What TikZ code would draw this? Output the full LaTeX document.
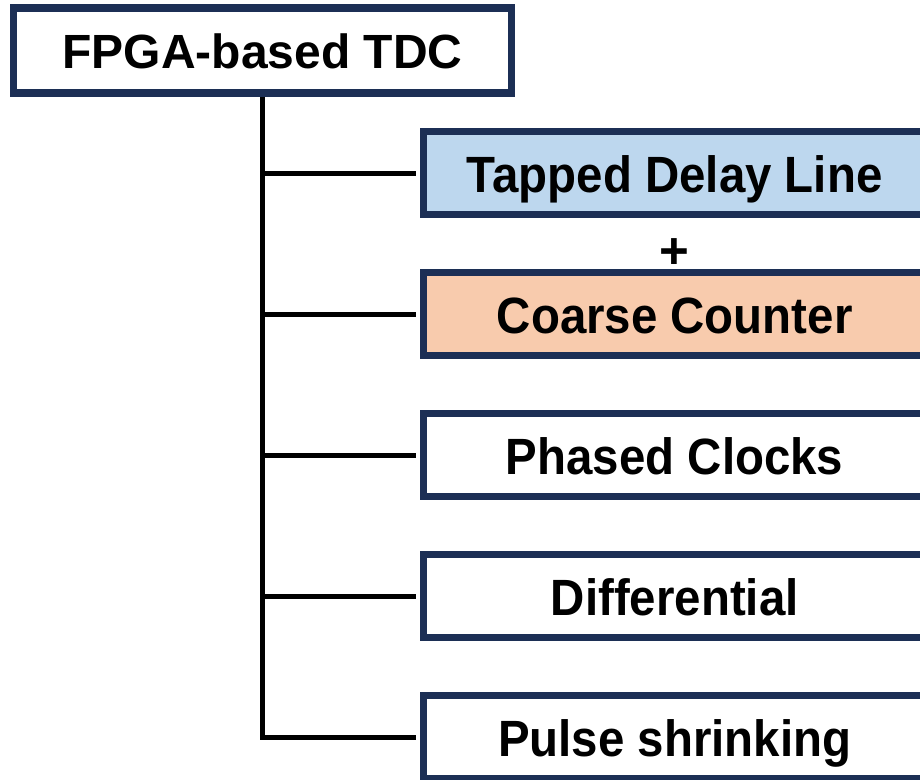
\documentclass[tikz,border=0pt]{standalone}
\usepackage{fontspec}
\setmainfont{Liberation Sans}
\definecolor{navy}{HTML}{1C2F55}
\definecolor{tdlblue}{HTML}{BDD7EE}
\definecolor{ccorange}{HTML}{F8CBAD}
\begin{document}
\begin{tikzpicture}[x=1pt,y=-1pt,
  topbox/.style={draw=navy, line width=7.5pt, fill=white, rectangle, inner sep=0pt,
    text height=35pt, text depth=0pt,
    minimum width=498pt, minimum height=85pt, font=\fontsize{48}{57}\selectfont\bfseries},
  subbox/.style={draw=navy, line width=7.5pt, rectangle, inner sep=0pt,
    text height=38pt, text depth=0pt,
    minimum width=502pt, minimum height=83pt, font=\fontsize{51}{60}\selectfont\bfseries},
  conn/.style={line width=5pt, black}]
\useasboundingbox (0,0) rectangle (920,779);
\clip (0,0) rectangle (920,779);
\fill[white] (0,0) rectangle (920,779);
\node[topbox] (top) at (262.4,50.7) {FPGA-based TDC};
\node[subbox, fill=tdlblue] (tdl) at (674.7,173) {\scalebox{0.93}[1]{Tapped Delay Line}};
\node[subbox, fill=ccorange] (cc) at (674.7,314) {\scalebox{0.93}[1]{Coarse Counter}};
\node[subbox, fill=white] (pc) at (674.7,455) {\scalebox{0.93}[1]{Phased Clocks}};
\node[subbox, fill=white] (diff) at (674.7,596) {\scalebox{0.93}[1]{Differential}};
\node[subbox, fill=white] (ps) at (674.7,737) {\scalebox{0.93}[1]{Pulse shrinking}};
\node[font=\fontsize{51}{60}\selectfont\bfseries, inner sep=0pt, anchor=base] (plus) at (674.5,268) {+};
\draw[conn] (top.south) -- (top.south |- ps.west) -- ([xshift=-3.75pt]ps.west);
\draw[conn] (top.south |- tdl.west) -- ([xshift=-3.75pt]tdl.west);
\draw[conn] (top.south |- cc.west) -- ([xshift=-3.75pt]cc.west);
\draw[conn] (top.south |- pc.west) -- ([xshift=-3.75pt]pc.west);
\draw[conn] (top.south |- diff.west) -- ([xshift=-3.75pt]diff.west);
\end{tikzpicture}
\end{document}
